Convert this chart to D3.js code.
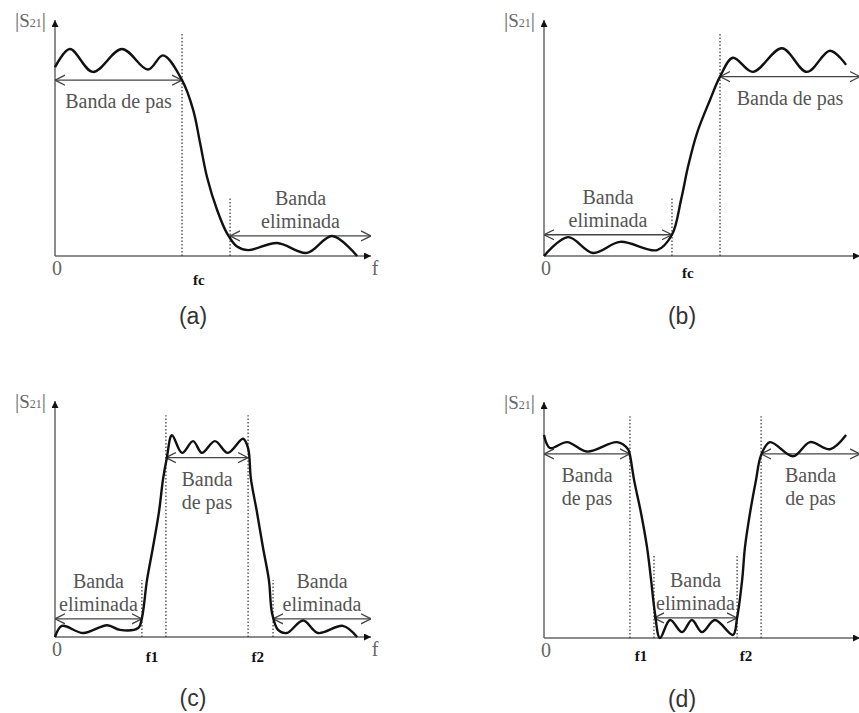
<!DOCTYPE html>
<html>
<head>
<meta charset="utf-8">
<script src="https://cdn.jsdelivr.net/npm/d3@7"></script>
<style>
  body { margin: 0; background: #fff; }
  svg { display: block; }
  .band-label { font-family: "Liberation Serif", "Times New Roman", serif; font-size: 20px; fill: #555; }
  .tick-label { font-family: "Liberation Serif", "Times New Roman", serif; font-size: 20px; fill: #666; }
  .freq-label { font-family: "Liberation Serif", "Times New Roman", serif; font-size: 15px; font-weight: bold; fill: #111; }
  .panel-title { font-family: "Liberation Sans", Arial, sans-serif; font-size: 23px; fill: #333; }
</style>
</head>
<body>
<svg id="chart" width="859" height="713"></svg>
<script>
// |S21| responses, frequency in 0..10, magnitude in 0..1 (1 = top of the axis)
const lowPass = [[0,0.80],[0.47,0.877],[1.2,0.78],[2.12,0.877],[2.94,0.79],[3.42,0.85],[4.02,0.745],
    [4.37,0.62],[4.59,0.48],[4.81,0.335],[5.13,0.195],[5.44,0.097],[5.76,0.04],[6.11,0.025],
    [7.03,0.055],[7.97,0.013],[8.77,0.085],[9.56,0]]
const highPass = [[0,0],[0.76,0.08],[1.55,0.013],[2.41,0.06],[3.58,0.025],[4.05,0.09],[4.34,0.24],
    [4.56,0.38],[4.84,0.52],[5.25,0.66],[5.57,0.76],[5.98,0.84],[6.61,0.78],[7.53,0.88],
    [8.32,0.78],[9.05,0.87],[9.56,0.81]]
const bandPass = [[0,0],[0.22,0.047],[0.89,0.017],[1.65,0.05],[2.06,0.03],[2.63,0.038],[2.75,0.08],
    [2.91,0.24],[3.10,0.38],[3.29,0.53],[3.42,0.67],[3.54,0.76],[3.70,0.855],[4.02,0.78],
    [4.37,0.83],[4.65,0.78],[5.06,0.83],[5.47,0.78],[5.95,0.84],[6.11,0.80],[6.2,0.67],
    [6.39,0.53],[6.58,0.38],[6.77,0.24],[6.87,0.10],[7.06,0.03],[7.34,0.017],[7.85,0.07],
    [8.32,0.017],[9.11,0.047],[9.56,0]]
const bandStop = [[0,0.86],[0.19,0.805],[0.73,0.83],[1.36,0.79],[2.31,0.83],[2.66,0.80],[2.72,0.775],
    [2.85,0.67],[3.07,0.53],[3.26,0.385],[3.39,0.245],[3.51,0.106],[3.67,0],[3.99,0.076],
    [4.37,0.025],[4.68,0.076],[5.0,0.025],[5.41,0.076],[5.98,0.013],[6.11,0.085],
    [6.27,0.245],[6.36,0.385],[6.52,0.53],[6.71,0.67],[6.87,0.775],[7.15,0.83],[7.88,0.77],
    [8.42,0.83],[9.05,0.80],[9.56,0.86]]

// band edges: dotted markers (frequency, height)
const edgesA = [[4.02,0.945],[5.54,0.25]]
const edgesB = [[4.05,0.25],[5.57,0.945]]
const edgesC = [[2.75,0.24],[3.51,0.94],[6.11,0.94],[6.90,0.24]]
const edgesD = [[2.72,0.94],[3.48,0.35],[6.11,0.35],[6.87,0.94]]

// bands: from, to, level of the arrow, kind
const bandsA = [[0,4.02,0.745,'pas'],[5.54,10,0.085,'elim']]
const bandsB = [[0,4.05,0.09,'elim'],[5.57,10,0.76,'pas']]
const bandsC = [[0,2.75,0.077,'elim'],[3.51,6.11,0.76,'pas2'],[6.90,10,0.077,'elim']]
const bandsD = [[0,2.72,0.78,'pas2'],[3.48,6.11,0.085,'elim'],[6.87,10,0.78,'pas2']]

const freqA = [['fc',4.55]]
const freqB = [['fc',4.55]]
const freqC = [['f1',3.07],['f2',6.42]]
const freqD = [['f1',3.07],['f2',6.39]]

const bandText = {
    pas: ['Banda de pas'],
    pas2: ['Banda', 'de pas'],
    elim: ['Banda', 'eliminada']
}

const panels = [
    {title: '(a)', curve: lowPass, edges: edgesA, bands: bandsA, freqs: freqA, ox: 55, oy: 256, fdy: 29, fLabel: true},
    {title: '(b)', curve: highPass, edges: edgesB, bands: bandsB, freqs: freqB, ox: 544, oy: 256, fdy: 22, fLabel: false},
    {title: '(c)', curve: bandPass, edges: edgesC, bands: bandsC, freqs: freqC, ox: 55, oy: 637, fdy: 25, fLabel: true},
    {title: '(d)', curve: bandStop, edges: edgesD, bands: bandsD, freqs: freqD, ox: 544, oy: 638, fdy: 23, fLabel: false}
]

const x = d3.scaleLinear().domain([0, 10]).range([0, 316])
const y = d3.scaleLinear().domain([0, 1]).range([0, -236])

const svg = d3.select('#chart')

const defs = svg.append('defs')
defs.append('marker')
    .attr('id', 'tip')
    .attr('viewBox', '0 0 10 10')
    .attr('refX', 10).attr('refY', 5)
    .attr('markerWidth', 9).attr('markerHeight', 7)
    .attr('markerUnits', 'userSpaceOnUse')
    .attr('orient', 'auto')
    .append('path').attr('d', 'M0,0L10,5L0,10Z').attr('fill', '#111')
defs.append('marker')
    .attr('id', 'open')
    .attr('viewBox', '0 0 10 10')
    .attr('refX', 10).attr('refY', 5)
    .attr('markerWidth', 10).attr('markerHeight', 12)
    .attr('markerUnits', 'userSpaceOnUse')
    .attr('orient', 'auto-start-reverse')
    .append('path').attr('d', 'M0,0L10,5L0,10')
    .attr('fill', 'none').attr('stroke', '#444').attr('stroke-width', 1.3)

const line = d3.line()
    .x(d => x(d[0]))
    .y(d => y(d[1]))
    .curve(d3.curveCatmullRom.alpha(0.5))

panels.forEach(p => {
    const g = svg.append('g').attr('transform', `translate(${p.ox},${p.oy})`)

    // axes
    g.append('line')
        .attr('x1', 0).attr('y1', 0).attr('x2', 0).attr('y2', y(1))
        .attr('stroke', '#666').attr('stroke-width', 1.5)
        .attr('marker-end', 'url(#tip)')
    g.append('line')
        .attr('x1', 0).attr('y1', 0).attr('x2', x(10)).attr('y2', 0)
        .attr('stroke', '#666').attr('stroke-width', 1.5)
        .attr('marker-end', 'url(#tip)')

    const yl = g.append('text').attr('class', 'tick-label')
        .attr('x', -9).attr('y', y(1) + 7)
        .attr('text-anchor', 'end')
    yl.append('tspan').text('|').style('font-size', '21px')
    yl.append('tspan').text('S').style('font-size', '19px')
    yl.append('tspan').text('21').style('font-size', '12px')
    yl.append('tspan').text('|').style('font-size', '21px')

    g.append('text').attr('class', 'tick-label')
        .attr('x', x(0) + 2).attr('y', 19)
        .attr('text-anchor', 'middle')
        .text('0')
    if (p.fLabel) {
        g.append('text').attr('class', 'tick-label')
            .attr('x', x(10) + 4).attr('y', 19)
            .attr('text-anchor', 'middle')
            .text('f')
    }

    // dotted band edges
    g.selectAll('line.edge')
        .data(p.edges)
        .enter()
            .append('line')
            .classed('edge', true)
            .attr('x1', d => x(d[0])).attr('x2', d => x(d[0]))
            .attr('y1', 0).attr('y2', d => y(d[1]))
            .attr('stroke', '#333').attr('stroke-width', 1.2)
            .attr('stroke-dasharray', '1.5,2')

    // band arrows
    g.selectAll('line.band')
        .data(p.bands)
        .enter()
            .append('line')
            .classed('band', true)
            .attr('x1', d => x(d[0])).attr('x2', d => x(d[1]))
            .attr('y1', d => y(d[2])).attr('y2', d => y(d[2]))
            .attr('stroke', '#444').attr('stroke-width', 1.3)
            .attr('marker-start', 'url(#open)')
            .attr('marker-end', 'url(#open)')

    // band names: pass bands below the arrow, stop bands above
    p.bands.forEach(b => {
        const lines = bandText[b[3]]
        const cx = x((b[0] + b[1]) / 2)
        const base = y(b[2])
        lines.forEach((t, i) => {
            let ty
            if (b[3] === 'elim') ty = base - 8 - (lines.length - 1 - i) * 23
            else ty = base + 28 + i * 23
            g.append('text').attr('class', 'band-label')
                .attr('x', cx).attr('y', ty)
                .attr('text-anchor', 'middle')
                .text(t)
        })
    })

    // response curve
    g.append('path')
        .datum(p.curve)
        .attr('d', line)
        .attr('fill', 'none')
        .attr('stroke', '#111')
        .attr('stroke-width', 2.4)

    g.selectAll('text.freq')
        .data(p.freqs)
        .enter()
            .append('text')
            .attr('class', 'freq-label')
            .attr('x', d => x(d[1])).attr('y', p.fdy)
            .attr('text-anchor', 'middle')
            .text(d => d[0])

    g.append('text').attr('class', 'panel-title')
        .attr('x', 138).attr('y', p.oy < 400 ? 68 : 69)
        .attr('text-anchor', 'middle')
        .text(p.title)
})
</script>
</body>
</html>
